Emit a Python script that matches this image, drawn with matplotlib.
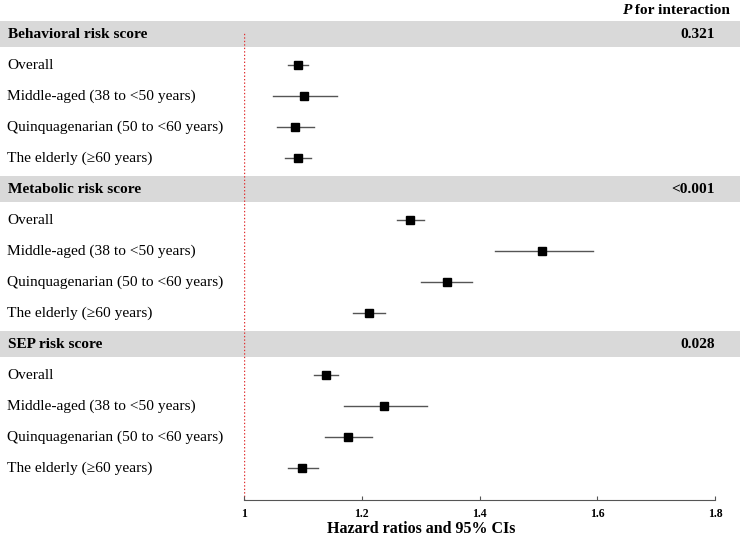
import matplotlib
matplotlib.use("Agg")
import matplotlib.pyplot as plt
import matplotlib.transforms as mtransforms

plt.rcParams['font.family'] = ['Liberation Serif', 'DejaVu Serif']

# ---- data ----
groups = ["Behavioral risk score", "Metabolic risk score", "SEP risk score"]
p_interaction = ["0.321", "<0.001", "0.028"]
subgroups = ["Overall", "Middle-aged (38 to <50 years)",
             "Quinquagenarian (50 to <60 years)", "The elderly (\u226560 years)"]

hr_behavioral = [1.092, 1.102, 1.086, 1.092]
lo_behavioral = [1.075, 1.049, 1.056, 1.069]
hi_behavioral = [1.108, 1.158, 1.119, 1.114]

hr_metabolic = [1.282, 1.507, 1.344, 1.212]
lo_metabolic = [1.260, 1.427, 1.301, 1.185]
hi_metabolic = [1.305, 1.593, 1.388, 1.240]

hr_sep = [1.139, 1.237, 1.177, 1.099]
lo_sep = [1.119, 1.170, 1.138, 1.075]
hi_sep = [1.160, 1.311, 1.218, 1.126]

xticks = [1, 1.2, 1.4, 1.6, 1.8]
xtick_labels = ["1", "1.2", "1.4", "1.6", "1.8"]

hrs = [hr_behavioral, hr_metabolic, hr_sep]
los = [lo_behavioral, lo_metabolic, lo_sep]
his = [hi_behavioral, hi_metabolic, hi_sep]

W, H = 740, 539
fig = plt.figure(figsize=(W / 100, H / 100), dpi=100)
ax = fig.add_axes([244 / W, 39 / H, 471 / W, 468 / H])
ax.set_xlim(1, 1.8)
ax.set_ylim(15.03, -0.065)

label_tf = mtransforms.blended_transform_factory(fig.transFigure, ax.transData)
band_lo = -244 / 471
band_hi = (W - 244) / 471

row = 0
for g, name in enumerate(groups):
    ax.axhspan(row - 0.42, row + 0.42, xmin=band_lo, xmax=band_hi,
               color='#d9d9d9', lw=0, clip_on=False, zorder=0)
    ax.text(8 / W, row, name, transform=label_tf, ha='left', va='center',
            fontsize=11.1, fontweight='bold')
    ax.text(715 / W, row, p_interaction[g], transform=label_tf, ha='right',
            va='center', fontsize=11.1, fontweight='bold')
    row += 1
    for k, sub in enumerate(subgroups):
        ax.text(7 / W, row, sub, transform=label_tf, ha='left', va='center',
                fontsize=11.1)
        ax.plot([los[g][k], his[g][k]], [row, row], color='#555555', lw=1,
                zorder=2)
        ax.plot(hrs[g][k], row, marker='s', color='black', ms=6, zorder=3)
        row += 1

ax.axvline(1, color='#e03030', ls=(0, (1, 1.5)), lw=1, zorder=1)

for side in ['top', 'right', 'left']:
    ax.spines[side].set_visible(False)
ax.spines['bottom'].set_color('#555555')
ax.set_yticks([])
ax.set_xticks(xticks)
ax.set_xticklabels(xtick_labels, fontsize=8.5, fontweight='bold')
ax.tick_params(axis='x', direction='in', length=3, color='#555555', pad=6)
ax.set_xlabel("Hazard ratios and 95% CIs", fontsize=11.5, fontweight='bold',
              labelpad=4)
ax.xaxis.set_label_coords((421 - 244) / 471, -0.045)

# header: italic P + bold text
t2 = fig.text(730 / W, 1 - 10 / H, " for interaction", ha='right', va='center',
              fontsize=11.1, fontweight='bold')
fig.canvas.draw()
bb = t2.get_window_extent(fig.canvas.get_renderer())
fig.text(bb.x0 / W, 1 - 10 / H, "P", ha='right', va='center', fontsize=11.1,
         fontweight='bold', fontstyle='italic')

fig.savefig("out.png", dpi=100)
